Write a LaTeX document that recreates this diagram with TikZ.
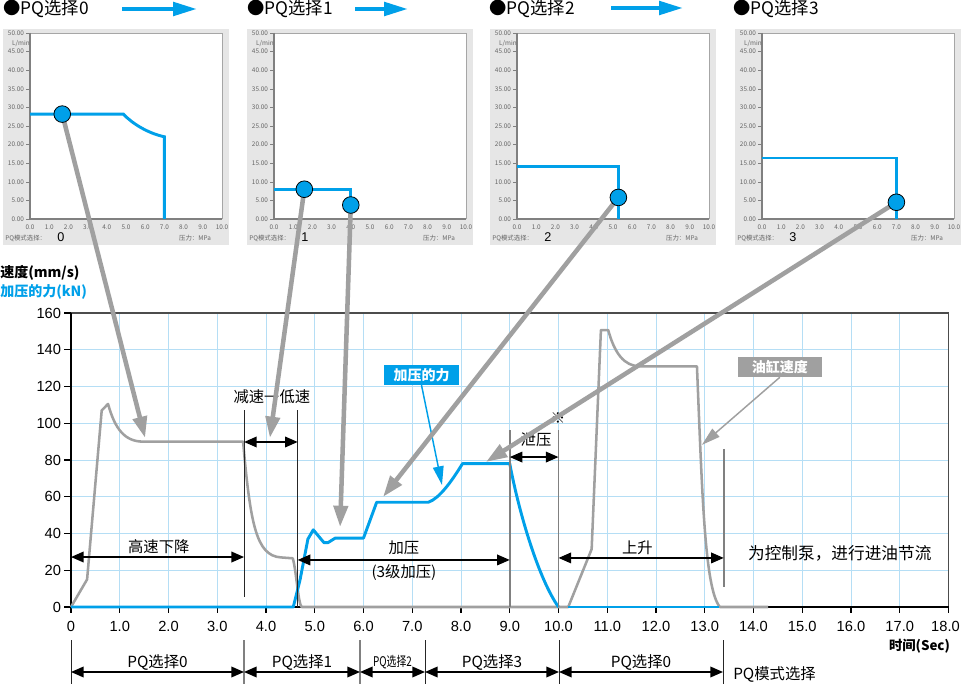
\documentclass[tikz,border=0pt]{standalone}
\usepackage{graphicx}
\usepackage{fontspec}
\setmainfont{Noto Sans CJK SC}
\newfontfamily\latf{Liberation Sans}
\usetikzlibrary{arrows.meta}
\definecolor{pqblue}{HTML}{00A0E9}
\definecolor{spgray}{HTML}{A0A0A0}
\definecolor{gridc}{HTML}{B5DEF5}
\definecolor{panelc}{HTML}{E6E6E6}
\definecolor{axisg}{HTML}{808080}
\tikzset{
  smalltick/.style={font=\fontsize{4.8pt}{5.5pt}\selectfont, text=black!60, inner sep=0pt},
  ttl/.style={font=\fontsize{13pt}{15pt}\selectfont, anchor=west, inner sep=0pt},
  tarrow/.style={pqblue, line width=3.2pt, -{Triangle[length=18pt,width=10pt]}},
  pqcurve/.style={pqblue, line width=2.2pt, line join=miter},
  pqdot/.style={circle, fill=pqblue, draw=black, line width=0.6pt, minimum size=12.5pt, inner sep=0pt},
  gridline/.style={gridc, line width=0.7pt},
  ticklbl/.style={font=\fontsize{11pt}{13pt}\selectfont\latf, inner sep=0pt},
  speedc/.style={spgray, line width=1.9pt, line join=round},
  forcec/.style={pqblue, line width=2.2pt, line join=round},
  vthin/.style={black!85, line width=0.6pt},
  vthick/.style={axisg, line width=1.3pt},
  darrow/.style={black, line width=1.1pt, {Triangle[length=9.5pt,width=8pt]}-{Triangle[length=9.5pt,width=8pt]}},
  garrow/.style={spgray, line width=3.4pt, -{Triangle[length=16pt,width=10.5pt]}},
  tharrow/.style={line width=1.1pt, -{Triangle[length=14pt,width=8pt]}},
  lbl/.style={font=\fontsize{11.5pt}{13pt}\selectfont, inner sep=0pt},
  tagbox/.style={text=white, font=\fontsize{10.5pt}{12pt}\selectfont\bfseries, minimum height=15pt, inner sep=0pt},
}
\newcommand{\pqpanel}[2]{%
  \fill[panelc] ({#1-27},29) rectangle ({#1+199},245);
  \begin{scope}[shift={(#1,219)}, x=14.4pt, y=2.79pt]
    \fill[white] (0,0) rectangle (10,50);
    \draw[axisg!70, line width=0.6pt] (0,50) -- (10,50) -- (10,0);
    \foreach \yy in {0,5,...,50} {
      \draw[axisg, line width=0.4pt] (0,\yy) -- (-0.22,\yy);
      \node[smalltick, anchor=east] at (-0.3,\yy) {\yy.00};
    }
    \foreach \xx in {0,...,10} {
      \node[smalltick] at (\xx,-2.2) {\xx.0};
    }
    \draw[axisg, line width=1.3pt] (0,50) -- (0,0) -- (10,0);
  \end{scope}
  \node[smalltick, anchor=west] at ({#1-25},238) {PQ模式选择：};
  \node[font=\fontsize{9.5pt}{10pt}\selectfont\latf, inner sep=0pt] at ({#1+31},237) {#2};
  \node[smalltick] at ({#1+165},238) {压力：MPa};
  \node[smalltick] at ({#1-9},44) {L/min};
}
\begin{document}
\begin{tikzpicture}[x=0.75pt,y=-0.75pt]
\useasboundingbox (0,0) rectangle (961,684);
\fill[white] (0,0) rectangle (961,684);

% ---------- titles ----------
\node[ttl] (ttl0) at (3,9) {●PQ选择0};
\node[ttl] (ttl1) at (247,9) {●PQ选择1};
\node[ttl] (ttl2) at (489,9) {●PQ选择2};
\node[ttl] (ttl3) at (733,9) {●PQ选择3};
\coordinate (ta0s) at (122,9); \coordinate (ta0e) at (197,9);
\coordinate (ta1s) at (355,9); \coordinate (ta1e) at (408,9);
\coordinate (ta2s) at (611,8); \coordinate (ta2e) at (683,8);
\draw[tarrow] (ta0s) -- (ta0e);
\draw[tarrow] (ta1s) -- (ta1e);
\draw[tarrow] (ta2s) -- (ta2e);

% ---------- small PQ charts ----------
\pqpanel{30}{0}
\begin{scope}[shift={(30,219)}, x=14.4pt, y=2.79pt]
  \draw[pqcurve] (0,28.2) -- (4.86,28.2) .. controls (5.3,25.8) and (6.1,23.1) .. (7,22.1) -- (7,0);
  \coordinate (p0) at (1.68,28.2);
\end{scope}
\pqpanel{274}{1}
\begin{scope}[shift={(274,219)}, x=14.4pt, y=2.79pt]
  \draw[pqcurve] (0,8) -- (4.0,8) -- (4.0,0);
  \coordinate (p1a) at (1.58,8);
  \coordinate (p1b) at (4.0,3.76);
\end{scope}
\pqpanel{517}{2}
\begin{scope}[shift={(517,219)}, x=14.4pt, y=2.79pt]
  \draw[pqcurve] (0,14.2) -- (5.28,14.2) -- (5.28,0);
  \coordinate (p2) at (5.28,5.8);
\end{scope}
\pqpanel{762}{3}
\begin{scope}[shift={(762,219)}, x=14.4pt, y=2.79pt]
  \draw[pqcurve] (0,16.4) -- (7.0,16.4) -- (7.0,0);
  \coordinate (p3) at (7.0,4.5);
\end{scope}

% ---------- axis titles ----------
\node[anchor=west, inner sep=0pt, font=\fontsize{10.5pt}{12pt}\selectfont\bfseries] (ylab1) at (0,273) {速度(mm/s)};
\node[anchor=west, inner sep=0pt, text=pqblue, font=\fontsize{10.5pt}{12pt}\selectfont\bfseries] (ylab2) at (0,292) {加压的力(kN)};

% ---------- main chart ----------
\begin{scope}[shift={(71,607)}, x=36.5625pt, y=1.378125pt]
  \foreach \tt in {1,...,17} \draw[gridline] (\tt,0) -- (\tt,160);
  \foreach \vv in {20,40,...,140} \draw[gridline] (0,\vv) -- (18,\vv);
  \draw[black!70, line width=0.9pt] (0,160) -- (18,160) -- (18,0);
  \draw[black, line width=1pt] (0,160) -- (0,0) -- (18,0);
  \foreach \vv in {0,20,...,160} {
    \draw[black, line width=0.8pt] (0,\vv) -- (-0.14,\vv);
    \node[ticklbl, anchor=east] at (-0.2,\vv) {\vv};
  }
  \foreach \tt in {0,...,18} \draw[black, line width=0.8pt] (\tt,0) -- (\tt,-3);
  \node[ticklbl] at (0,-10.5) {0};
  \foreach \tt in {1,...,17} \node[ticklbl] at (\tt,-10.5) {\tt.0};
  \node[ticklbl, anchor=east] at (18.236,-10.5) {18.0};

  % speed curve
  \draw[speedc] (0,0) -- (0.33,15) -- (0.63,107) -- (0.76,110.5)
     .. controls (0.9,97) and (1.1,90) .. (1.48,90) -- (3.53,90)
     .. controls (3.68,45) and (3.8,28) .. (4.3,27) -- (4.55,26.5)
     .. controls (4.62,20) and (4.66,2) .. (4.73,0) -- (10.2,0)
     -- (10.68,31.5) -- (10.87,150.7) -- (11.02,150.7)
     .. controls (11.15,138) and (11.35,131) .. (11.67,131) -- (12.84,131)
     .. controls (12.95,60) and (13.0,10) .. (13.31,0) -- (14.3,0);
  % force curve
  \draw[forcec] (0,0) -- (4.56,0) -- (4.7,15) -- (4.86,37) -- (4.97,42) -- (5.19,35)
     -- (5.27,35) -- (5.42,37.5) -- (6.0,37.5) -- (6.27,57) -- (7.33,57)
     .. controls (7.55,59) and (7.8,68) .. (8.03,78) -- (9.0,78)
     .. controls (9.2,50) and (9.6,15) .. (10.0,0);
  \draw[forcec] (10.2,0) -- (13.3,0);

  % vertical marker lines
  \draw[vthin] (3.55,107.2) -- (3.55,5.4);
  \draw[vthin] (4.65,107.2) -- (4.65,0);
  \draw[vthick] (9.0,96.3) -- (9.0,0);
  \draw[vthick] (10.0,96.3) -- (10.0,0);
  \draw[vthick] (13.39,86) -- (13.39,10.9);

  % phase arrows
  \coordinate (hs1) at (0,27.2);     \coordinate (hs2) at (3.55,27.2);
  \coordinate (js1) at (3.55,89.8);  \coordinate (js2) at (4.65,89.8);
  \coordinate (jy1) at (4.65,25.6);  \coordinate (jy2) at (9.0,25.6);
  \coordinate (xy1) at (9.0,81.6);   \coordinate (xy2) at (10.0,81.6);
  \coordinate (ss1) at (10.0,26.7);  \coordinate (ss2) at (13.39,26.7);
  \draw[darrow] (hs1) -- (hs2);
  \draw[darrow] (js1) -- (js2);
  \draw[darrow] (jy1) -- (jy2);
  \draw[darrow] (xy1) -- (xy2);
  \draw[darrow] (ss1) -- (ss2);
  \node[lbl] (lhs) at (1.8,32.7) {高速下降};
  \node[lbl] (ljs) at (4.12,114.3) {减速→低速};
  \node[lbl] (ljy) at (6.83,32) {加压};
  \node[lbl] (ljy2) at (6.83,19) {(3级加压)};
  \node[lbl] (lxy) at (9.54,90.9) {泄压};
  \node[lbl] (lss) at (11.62,32.1) {上升};
  \node[font=\fontsize{12.5pt}{14pt}\selectfont, inner sep=0pt] (lpump) at (15.77,29.4) {为控制泵，进行进油节流};
  \node[font=\fontsize{11pt}{12pt}\selectfont, inner sep=0pt] (mark) at (9.99,102.9) {※};

  % tag boxes
  \node[tagbox, fill=pqblue, minimum width=56pt] (bluebox) at (7.19,126.3) {加压的力};
  \coordinate (bt) at (7.61,66.4);
  \draw[tharrow, pqblue] (bluebox.south) -- (bt);
  \node[tagbox, fill=spgray, minimum width=63pt] (graybox) at (14.54,130.6) {油缸速度};
  \coordinate (gt) at (12.94,88.2);
  \draw[tharrow, spgray] (graybox.south) -- (gt);

  % targets of big gray arrows
  \coordinate (t0) at (1.52,92);
  \coordinate (t1) at (4.08,92);
  \coordinate (t2) at (5.52,43.5);
  \coordinate (t3) at (6.4,59.9);
  \coordinate (t4) at (8.51,78.9);
\end{scope}

\node[font=\fontsize{10pt}{11pt}\selectfont\bfseries, inner sep=0pt] (tlab) at (919.5,646) {时间(Sec)};

% ---------- bottom PQ mode row ----------
\draw[vthin] (71,640) -- (71,684);
\draw[vthick] (244,640) -- (244,684);
\draw[vthick] (360,640) -- (360,684);
\draw[vthin] (425,640) -- (425,684);
\draw[vthin] (559,640) -- (559,684);
\draw[vthin] (723,640) -- (723,684);
\coordinate (b0) at (71,672);  \coordinate (b1) at (244,672);
\coordinate (b2) at (360,672); \coordinate (b3) at (425,672);
\coordinate (b4) at (559,672); \coordinate (b5) at (723,672);
\draw[darrow] (b0) -- (b1);
\draw[darrow] (b1) -- (b2);
\draw[darrow] (b2) -- (b3);
\draw[darrow] (b3) -- (b4);
\draw[darrow] (b4) -- (b5);
\node[lbl] (m0) at (157.5,662) {PQ选择0};
\node[lbl] (m1) at (302,662) {PQ选择1};
\node[font=\fontsize{10pt}{11pt}\selectfont, inner sep=0pt] (m2) at (392.5,662) {\scalebox{0.74}[1]{PQ选择2}};
\node[lbl] (m3) at (492,662) {PQ选择3};
\node[lbl] (m4) at (641,662) {PQ选择0};
\node[lbl, anchor=west] (mlab) at (733,674) {PQ模式选择};

% ---------- big gray arrows ----------
\draw[garrow] (p0) -- (t0);
\draw[garrow] (p1a) -- (t1);
\draw[garrow] (p1b) -- (t2);
\draw[garrow] (p2) -- (t3);
\draw[garrow] (p3) -- (t4);

% ---------- dots ----------
\node[pqdot] (d0) at (p0) {};
\node[pqdot] (d1a) at (p1a) {};
\node[pqdot] (d1b) at (p1b) {};
\node[pqdot] (d2) at (p2) {};
\node[pqdot] (d3) at (p3) {};
\end{tikzpicture}
\end{document}
